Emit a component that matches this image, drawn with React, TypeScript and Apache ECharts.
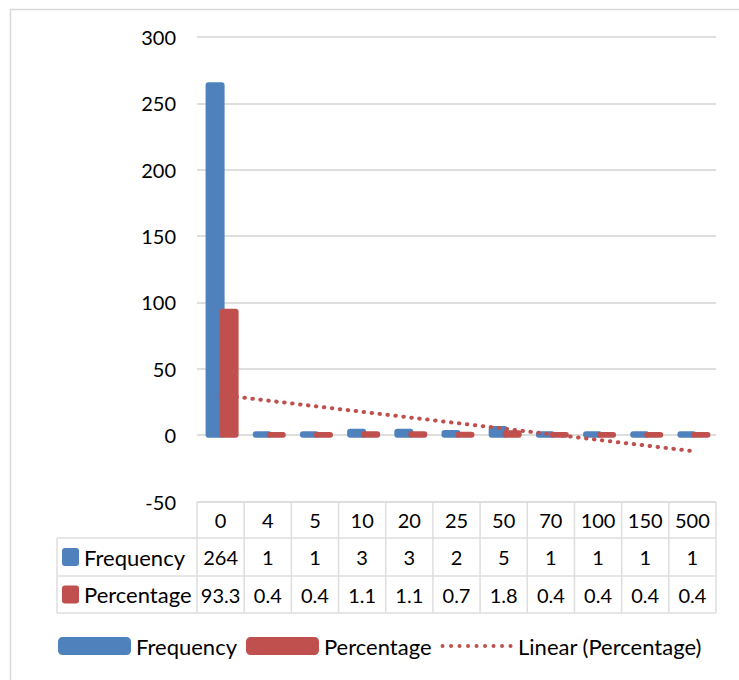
import React, { useEffect, useRef } from "react";
import * as echarts from "echarts";

const categories = ["0", "4", "5", "10", "20", "25", "50", "70", "100", "150", "500"];
const frequency = [264, 1, 1, 3, 3, 2, 5, 1, 1, 1, 1];
const percentage = [93.3, 0.4, 0.4, 1.1, 1.1, 0.7, 1.8, 0.4, 0.4, 0.4, 0.4];
const yMin = -50;
const yMax = 300;
const yInterval = 50;

const BLUE = "#4F81BD";
const RED = "#C0504D";
const GRID_LINE = "#DEDEDE";
const FONT = "Lato";
const FS_NUM = 20;
const FS_TXT = 22;

// Excel-style linear trendline (least squares over category index 1..n)
function linearTrend(values: number[]): number[] {
  const n = values.length;
  const xs = values.map((_, i) => i + 1);
  const mx = xs.reduce((a, b) => a + b, 0) / n;
  const my = values.reduce((a, b) => a + b, 0) / n;
  let sxy = 0;
  let sxx = 0;
  for (let i = 0; i < n; i++) {
    sxy += (xs[i] - mx) * (values[i] - my);
    sxx += (xs[i] - mx) * (xs[i] - mx);
  }
  const slope = sxy / sxx;
  return xs.map((x) => +(my + slope * (x - mx)).toFixed(3));
}

const W = 739;
const H = 680;
const gridLeft = 197;
const gridRight = 716;
const gridTop = 37;
const gridBottom = 501.5;
const tableLabelLeft = 57;
const rowLines = [502, 538, 576, 613];

// dotted legend icon: 9 dots across a 72x18 box
function dottedIcon(): string {
  let d = "M0 0Z M72 18Z";
  const r = 2;
  for (let i = 0; i < 9; i++) {
    const cx = 2 + i * 8.5;
    d += ` M${cx - r} 9 a${r} ${r} 0 1 0 ${2 * r} 0 a${r} ${r} 0 1 0 ${-2 * r} 0Z`;
  }
  return "path://" + d;
}

function barRenderer(color: string, offset: number) {
  return (params: any, api: any) => {
    const idx = api.value(0);
    const v = api.value(1);
    const top = api.coord([idx, v]);
    const base = api.coord([idx, 0]);
    const w = 19;
    const ext = 2.5;
    const y1 = Math.min(top[1], base[1]) - ext;
    const y2 = Math.max(top[1], base[1]) + ext;
    return {
      type: "rect",
      shape: { x: top[0] + offset - w / 2, y: y1, width: w, height: y2 - y1, r: 3 },
      style: { fill: color },
    };
  };
}

export default function App() {
  const ref = useRef<HTMLDivElement>(null);

  useEffect(() => {
    document.body.style.margin = "0";
    if (!ref.current) return;
    const chart = echarts.init(ref.current, undefined, { renderer: "svg" });
    const n = categories.length;
    const colW = (gridRight - gridLeft) / n;

    const graphics: any[] = [];
    graphics.push({
      type: "rect",
      shape: { x: 10.5, y: 9.5, width: W, height: H },
      style: { fill: "none", stroke: "#D9D9D9", lineWidth: 1.5 },
      silent: true,
    });
    rowLines.forEach((y, i) => {
      graphics.push({
        type: "line",
        shape: { x1: i === 0 ? gridLeft : tableLabelLeft, y1: y, x2: gridRight, y2: y },
        style: { stroke: GRID_LINE, lineWidth: 1.5 },
        silent: true,
      });
    });
    for (let i = 0; i <= n; i++) {
      const x = gridLeft + i * colW;
      graphics.push({
        type: "line",
        shape: { x1: x, y1: rowLines[0], x2: x, y2: rowLines[3] },
        style: { stroke: GRID_LINE, lineWidth: 1.5 },
        silent: true,
      });
    }
    graphics.push({
      type: "line",
      shape: { x1: tableLabelLeft, y1: rowLines[1], x2: tableLabelLeft, y2: rowLines[3] },
      style: { stroke: GRID_LINE, lineWidth: 1.5 },
      silent: true,
    });
    const rows = [
      { name: "Frequency", color: BLUE, y: (rowLines[1] + rowLines[2]) / 2 },
      { name: "Percentage", color: RED, y: (rowLines[2] + rowLines[3]) / 2 },
    ];
    rows.forEach((r) => {
      graphics.push({
        type: "rect",
        shape: { x: 62, y: r.y - 9, width: 17, height: 18, r: 3 },
        style: { fill: r.color },
        silent: true,
      });
      graphics.push({
        type: "text",
        x: 84,
        y: r.y,
        style: {
          text: r.name,
          font: `${FS_TXT}px ${FONT}`,
          fill: "#000",
          verticalAlign: "middle",
        },
        silent: true,
      });
    });

    const tableAxis = (margin: number, fmt: (v: string, i: number) => string) => ({
      type: "category",
      data: categories,
      position: "bottom",
      gridIndex: 0,
      axisLine: { show: false, onZero: false },
      axisTick: { show: false },
      splitLine: { show: false },
      axisLabel: {
        show: true,
        margin,
        interval: 0,
        verticalAlign: "middle",
        fontSize: FS_NUM,
        fontFamily: FONT,
        color: "#000",
        formatter: fmt,
      },
    });

    const trend = linearTrend(percentage);

    chart.setOption({
      animation: false,
      textStyle: { fontFamily: FONT },
      grid: {
        left: gridLeft,
        right: W - gridRight,
        top: gridTop,
        bottom: H - gridBottom,
        containLabel: false,
      },
      xAxis: [
        {
          type: "category",
          data: categories,
          axisLine: { show: false },
          axisTick: { show: false },
          axisLabel: { show: false },
        },
        tableAxis((rowLines[0] + rowLines[1]) / 2 - gridBottom, (v) => v),
        tableAxis((rowLines[1] + rowLines[2]) / 2 - gridBottom, (_v, i) => String(frequency[i])),
        tableAxis((rowLines[2] + rowLines[3]) / 2 - gridBottom, (_v, i) => String(percentage[i])),
      ],
      yAxis: {
        type: "value",
        min: yMin,
        max: yMax,
        interval: yInterval,
        axisLine: { show: false },
        axisTick: { show: false },
        axisLabel: { fontSize: FS_NUM, fontFamily: FONT, color: "#000", margin: 21 },
        splitLine: { lineStyle: { color: GRID_LINE, width: 2 } },
      },
      legend: {
        left: 58,
        top: 635,
        padding: 0,
        itemWidth: 73,
        itemHeight: 18,
        itemGap: 9,
        textStyle: { fontSize: FS_TXT, fontFamily: FONT, color: "#000" },
        data: [
          { name: "Frequency", icon: "roundRect", itemStyle: { color: BLUE } },
          { name: "Percentage", icon: "roundRect", itemStyle: { color: RED } },
          { name: "Linear (Percentage)", icon: dottedIcon(), itemStyle: { color: RED, borderWidth: 0 } },
        ],
      },
      series: [
        {
          name: "Frequency",
          type: "custom",
          data: frequency.map((v, i) => [i, v]),
          encode: { x: 0, y: 1 },
          renderItem: barRenderer(BLUE, -5.5),
          itemStyle: { color: BLUE },
          z: 2,
        },
        {
          name: "Percentage",
          type: "custom",
          data: percentage.map((v, i) => [i, v]),
          encode: { x: 0, y: 1 },
          renderItem: barRenderer(RED, 8.5),
          itemStyle: { color: RED },
          z: 3,
        },
        {
          name: "Linear (Percentage)",
          type: "line",
          data: trend,
          symbol: "none",
          z: 5,
          itemStyle: { color: RED },
          lineStyle: { color: RED, width: 4, type: [0.5, 7.5], cap: "round" },
        },
      ],
      graphic: graphics,
    });

    return () => chart.dispose();
  }, []);

  return <div ref={ref} style={{ width: W, height: H }} />;
}
